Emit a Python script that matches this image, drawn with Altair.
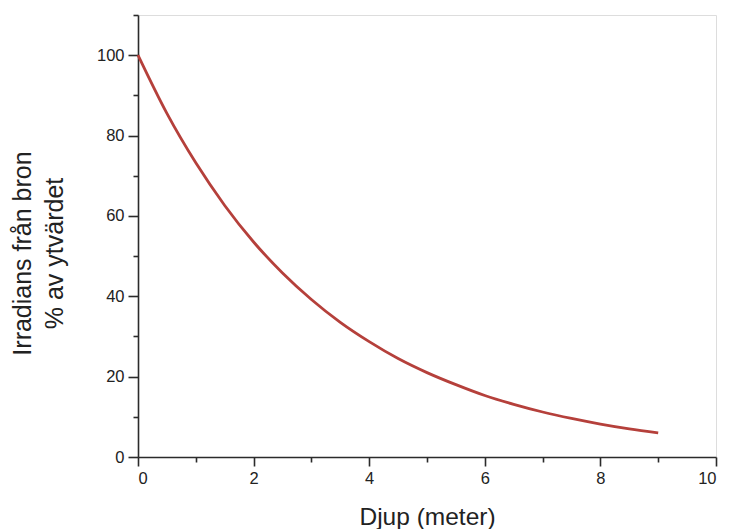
import altair as alt
import pandas as pd

depth = [0, 0.5, 1, 1.5, 2, 2.5, 3, 3.5, 4, 4.5, 5, 5.5, 6, 6.5, 7, 7.5, 8, 8.5, 9]
irradiance = [100, 85.5, 73.2, 62.6, 53.5, 45.8, 39.2, 33.5, 28.7, 24.5, 21.0,
              18.0, 15.3, 13.1, 11.2, 9.6, 8.2, 7.0, 6.0]
x_ticks = list(range(0, 11))
y_ticks = list(range(0, 111, 10))

df = pd.DataFrame({"depth": depth, "irr": irradiance})

FONT = "Liberation Sans"
AX = "#2b2b2b"
TXT = "#222222"

chart = alt.Chart(df).mark_line(
    color="#b5403b", strokeWidth=2.8, interpolate="monotone"
).encode(
    x=alt.X("depth:Q", scale=alt.Scale(domain=[0, 10], nice=False),
            axis=alt.Axis(
                title="Djup (meter)", values=x_ticks, grid=False,
                labelExpr="datum.value % 2 === 0 ? datum.label : ''",
                tickSize={"condition": {"test": "datum.value % 2 === 0", "value": 9}, "value": 5},
                titleFontSize=24.5, titleFont=FONT, titleFontWeight="normal",
                titleColor=TXT, titleX=289, titleY=67, titleBaseline="alphabetic",
                titleAlign="center",
                labelFontSize=16.5, labelFont=FONT, labelColor=TXT,
                labelPadding=4, domainColor=AX, tickColor=AX,
                domainWidth=1.6, tickWidth=1.6)),
    y=alt.Y("irr:Q", scale=alt.Scale(domain=[0, 110], nice=False),
            axis=alt.Axis(
                title=["Irradians från bron", "% av ytvärdet"], values=y_ticks, grid=False,
                labelExpr="datum.value % 20 === 0 ? datum.label : ''",
                tickSize={"condition": {"test": "datum.value % 20 === 0", "value": 10}, "value": 5},
                titleFontSize=25, titleFont=FONT, titleFontWeight="normal",
                titleColor=TXT, titleLineHeight=32,
                titleX=-128, titleY=238, titleBaseline="top", titleAlign="center",
                titleAngle=270,
                labelFontSize=16.5, labelFont=FONT, labelColor=TXT,
                labelPadding=4, domainColor=AX, tickColor=AX,
                domainWidth=1.6, tickWidth=1.6)),
).properties(
    width=578, height=442,
    autosize=alt.AutoSizeParams(type="none"),
    padding={"left": 130, "top": 7, "right": 7, "bottom": 72},
).configure_view(stroke=None).configure(background="white")

chart.save("out.html", embed_options={"renderer": "svg", "actions": False})
